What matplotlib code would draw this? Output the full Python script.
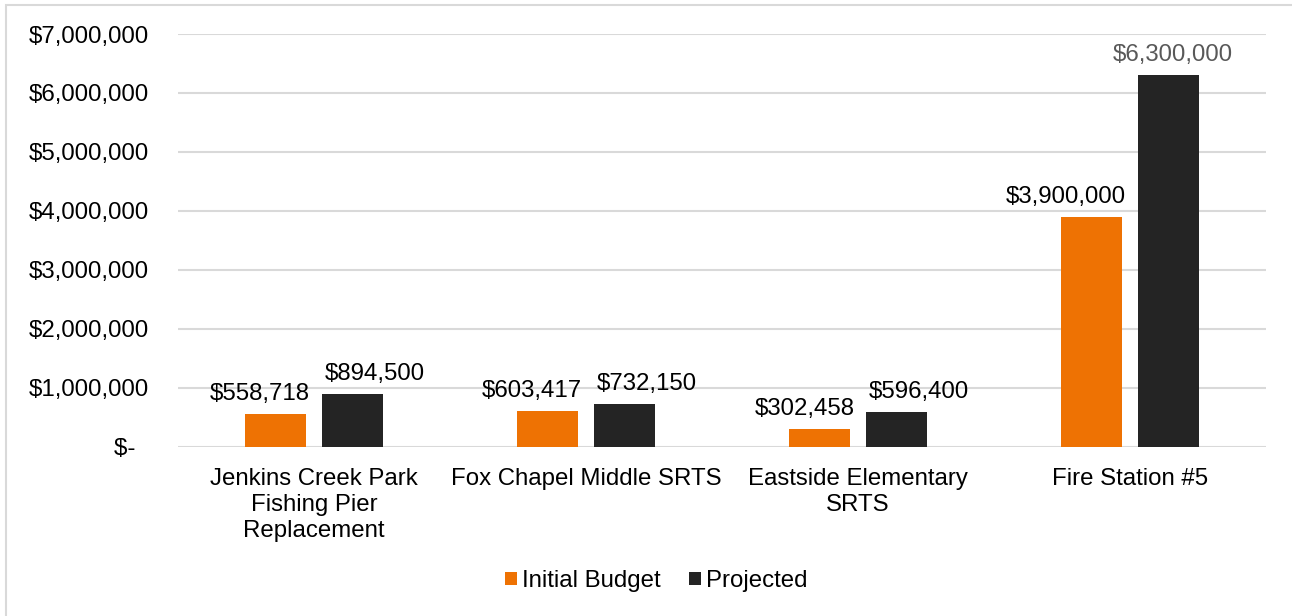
import matplotlib.pyplot as plt
import numpy as np
from matplotlib.patches import Rectangle

categories = ["Jenkins Creek Park\nFishing Pier\nReplacement", "Fox Chapel Middle SRTS",
              "Eastside Elementary\nSRTS", "Fire Station #5"]
initial_budget = [558718, 603417, 302458, 3900000]
projected = [894500, 732150, 596400, 6300000]
series_names = ["Initial Budget", "Projected"]

plt.rcParams['font.family'] = ['Liberation Sans', 'DejaVu Sans']
fs = 17.3

fig = plt.figure(figsize=(12.92, 6.16), dpi=100)
ax = fig.add_axes([0.1378, 0.2744, 0.8422, 0.6704])

# light border round the chart area
fig.patches.append(Rectangle((6 / 1292, -0.1), 1.2, 1.1 - 5 / 616, transform=fig.transFigure,
                             fill=False, edgecolor='#D9D9D9', linewidth=1.5))

x = np.arange(len(categories))
w = 0.225
off = 0.142
b1 = ax.bar(x - off, initial_budget, w, color='#EE7203', label=series_names[0], zorder=3)
b2 = ax.bar(x + off, projected, w, color='#242424', label=series_names[1], zorder=3)

# data labels: pushed outward so neighbours don't collide (like Excel does)
for bar, v in zip(b1, initial_budget):
    ax.annotate(f"${v:,.0f}", (bar.get_x() + bar.get_width(), v), xytext=(3, 10),
                textcoords='offset points', ha='right', va='baseline', fontsize=fs)
for i, (bar, v) in enumerate(zip(b2, projected)):
    if v == max(projected):
        ax.annotate(f"${v:,.0f}", (bar.get_x() + bar.get_width() / 2, v), xytext=(3, 10),
                    textcoords='offset points', ha='center', va='baseline', fontsize=fs,
                    color='#595959')
    else:
        ax.annotate(f"${v:,.0f}", (bar.get_x(), v), xytext=(2, 10),
                    textcoords='offset points', ha='left', va='baseline', fontsize=fs)

ax.set_xlim(-0.5, 3.5)
ax.set_ylim(0, 7000000)
ticks = np.arange(0, 7000001, 1000000)
ax.set_yticks(ticks)
ax.set_yticklabels(["$-  "] + [f"${t:,.0f}" for t in ticks[1:]])
ax.set_xticks(x)
ax.set_xticklabels(categories, fontsize=fs, linespacing=1.25)
ax.tick_params(axis='y', length=0, labelsize=fs, pad=21)
ax.tick_params(axis='x', length=0, pad=15)
ax.grid(axis='y', color='#D9D9D9', linewidth=1.5, zorder=0)
for s in ax.spines.values():
    s.set_visible(False)

fig.legend(loc='center', bbox_to_anchor=(656 / 1292, 1 - 581 / 616), ncol=2, frameon=False,
           fontsize=fs, handlelength=0.5, handleheight=0.5, handletextpad=0.2,
           columnspacing=1.2)

fig.savefig("out.png", dpi=100)
